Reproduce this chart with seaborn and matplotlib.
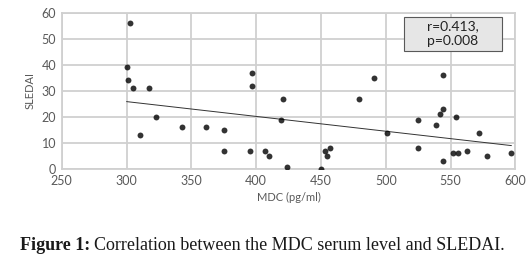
# MDC serum level vs SLEDAI scatter with linear trend

import numpy as np
import pandas as pd
import matplotlib
matplotlib.use("Agg")
import matplotlib.pyplot as plt
import seaborn as sns
from matplotlib.patches import Rectangle

# ==========================================================
# Data
# ==========================================================

mdc = [303, 300, 301, 305, 317, 323, 310, 343, 361, 375,
       375, 395, 397, 397, 407, 410, 421, 419, 424, 450,
       453, 457, 455, 479, 491, 501, 525, 525, 539, 542,
       544, 544, 544, 554, 552, 556, 563, 572, 578, 597]
sledai = [56, 39, 34, 31, 31, 20, 13, 16, 16, 15,
          7, 7, 37, 32, 7, 5, 27, 19, 1, 0,
          7, 8, 5, 27, 35, 14, 19, 8, 17, 21,
          23, 36, 3, 20, 6, 6, 7, 14, 5, 6]

x_ticks = [250, 300, 350, 400, 450, 500, 550, 600]
y_ticks = [0, 10, 20, 30, 40, 50, 60]
stats_text = "r=0.413,\np=0.008"

df = pd.DataFrame({"MDC": mdc, "SLEDAI": sledai})

# ==========================================================
# Plot
# ==========================================================

sns.set_style("white")
plt.rcParams["font.family"] = ["Lato", "DejaVu Sans"]

fig = plt.figure(figsize=(5.28, 2.63), dpi=100)
ax = fig.add_axes([0.117, 0.357, 0.859, 0.595])

grid_col = "#d0d0d0"
tick_col = "#595959"

sns.regplot(
    data=df, x="MDC", y="SLEDAI", ax=ax, ci=None, truncate=True,
    scatter_kws={"s": 18, "color": "black", "linewidths": 0, "zorder": 3},
    line_kws={"color": "#333333", "linewidth": 0.7, "zorder": 2},
)

ax.set_xlim(250, 600)
ax.set_ylim(0, 60)
ax.set_xticks(x_ticks)
ax.set_yticks(y_ticks)
ax.grid(True, color=grid_col, linewidth=1.3, zorder=0)
ax.set_axisbelow(True)
for s in ax.spines.values():
    s.set_color(grid_col)
    s.set_linewidth(1.3)
ax.tick_params(length=0, labelsize=9, colors=tick_col, pad=4)

ax.set_xlabel("MDC (pg/ml)", fontsize=8, color=tick_col, labelpad=4)
ax.set_ylabel("SLEDAI", fontsize=8, color=tick_col, labelpad=4)

# stats box
ax.add_patch(Rectangle((0.754, 0.757), 0.217, 0.214, transform=ax.transAxes,
                       facecolor="#e6e6e6", edgecolor="#595959",
                       linewidth=0.8, zorder=5))
ax.text(0.8625, 0.864, stats_text, transform=ax.transAxes, ha="center",
        va="center", fontsize=10, color="#222222", linespacing=1.25,
        zorder=6)

# caption
t1 = fig.text(0.038, 0.05, "Figure 1:", fontsize=13.0, fontweight="bold",
              family="Liberation Serif", color="#1a1a1a")
fig.canvas.draw()
bb = t1.get_window_extent()
x2 = (bb.x1 + 4) / fig.bbox.width
fig.text(x2, 0.05, "Correlation between the MDC serum level and SLEDAI.",
         fontsize=13.0, family="Liberation Serif", color="#1a1a1a")

fig.savefig("out.png", dpi=100)
